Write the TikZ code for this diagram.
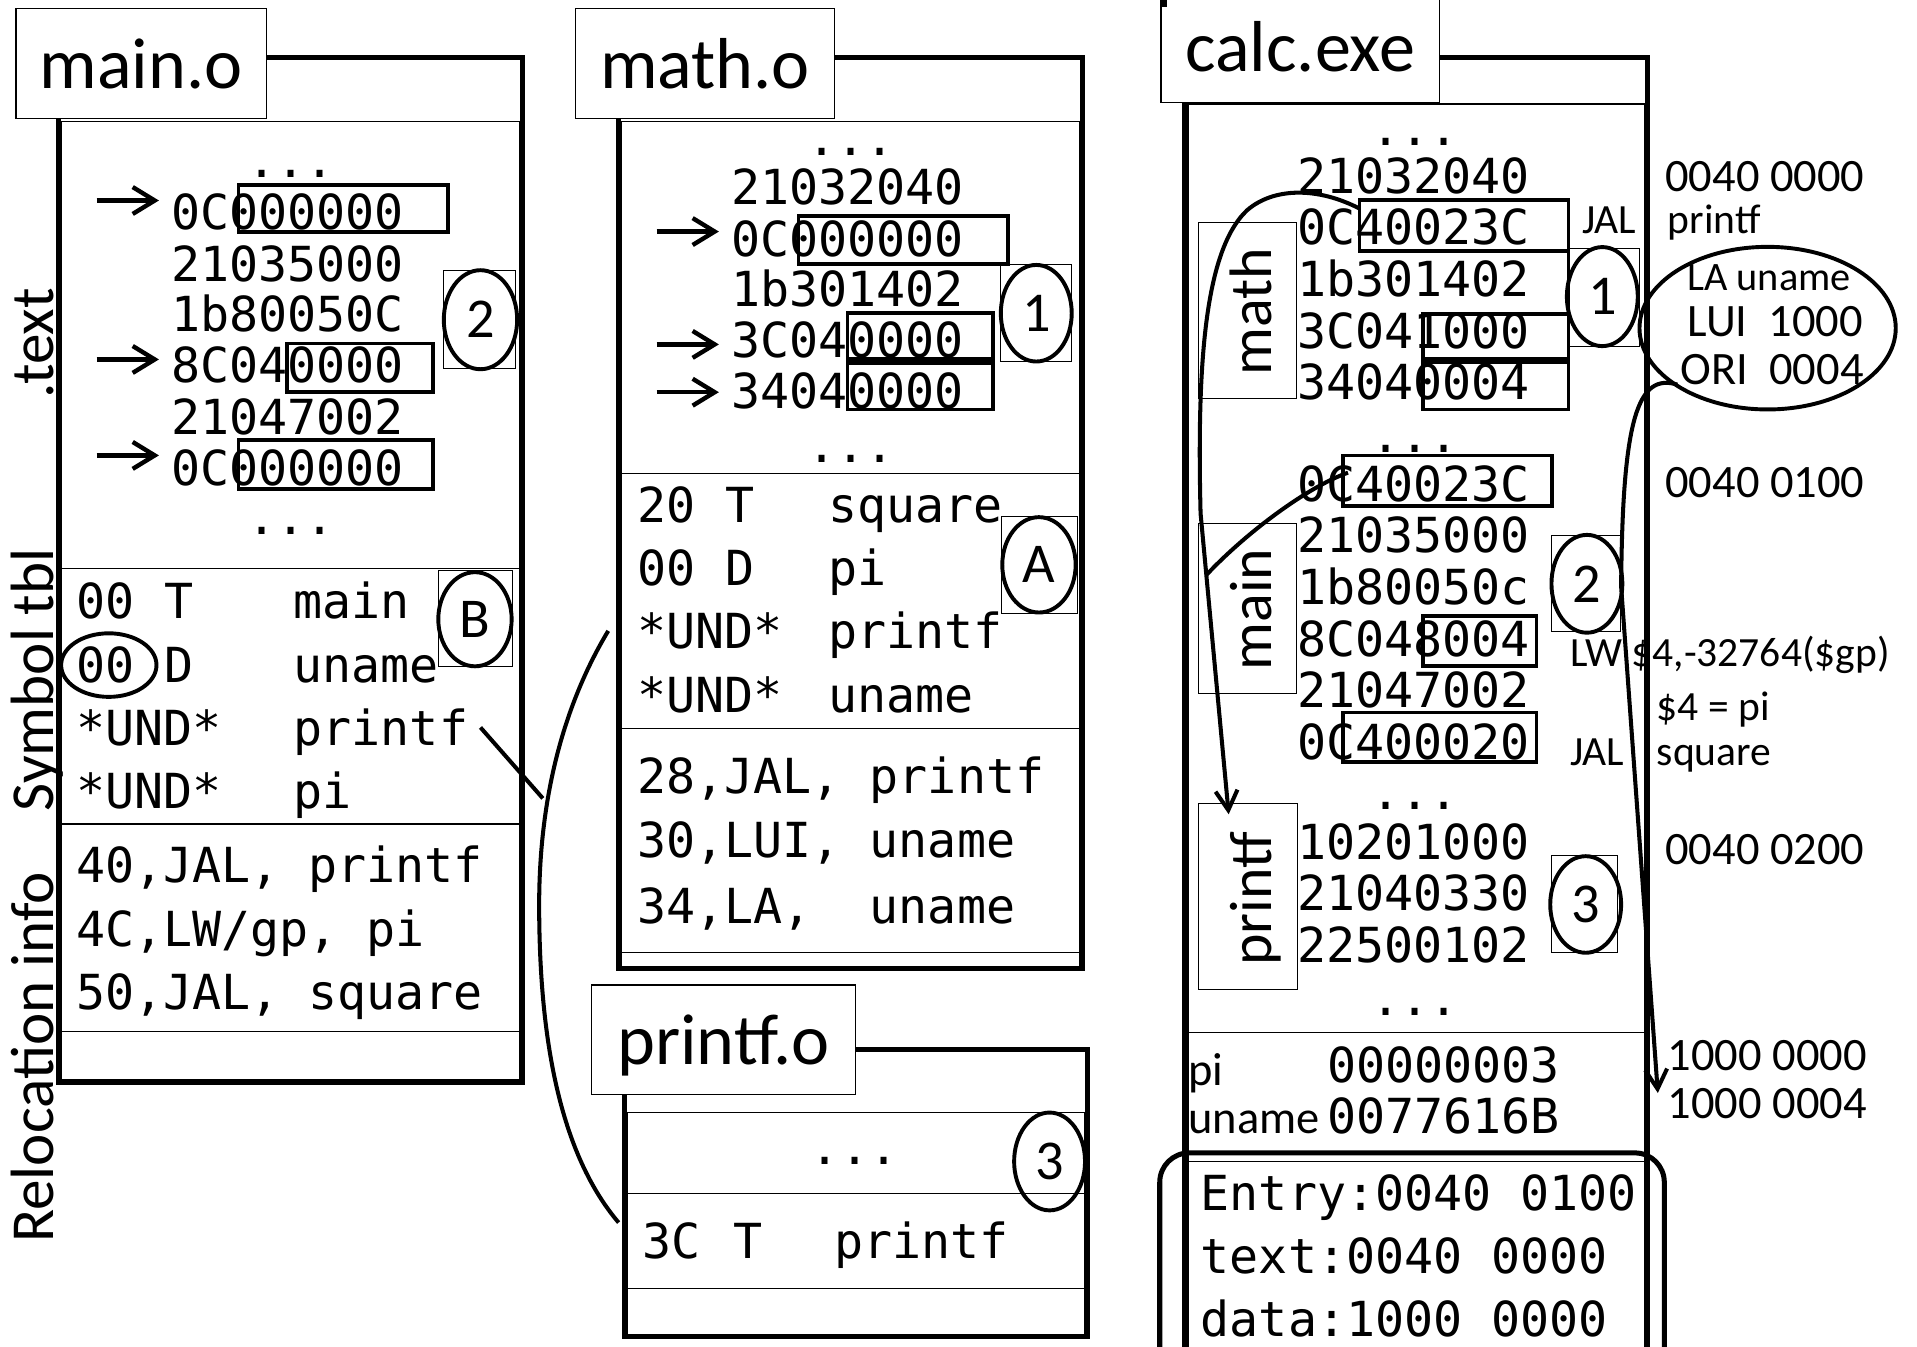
\documentclass[tikz,border=0pt]{standalone}
\usepackage{fontspec}
\setmainfont{Carlito}
\newfontfamily\monof{DejaVu Sans Mono}
\usetikzlibrary{shapes.geometric,arrows.meta}
\begin{document}
\begin{tikzpicture}[x=1pt,y=-1pt,
  thickbox/.style={line width=4.1pt},
  thinline/.style={line width=1pt},
  titlebox/.style={draw, fill=white, line width=1.2pt, inner sep=0pt, font=\fontsize{59}{59}\selectfont, text height=41pt, text depth=0pt},
  mono/.style={inner sep=0pt, anchor=base west, font=\monof\fontsize{39.5}{40}\selectfont\frenchspacing},
  ellip/.style={inner sep=0pt, anchor=base, font=\monof\fontsize{39.5}{40}\selectfont},
  sidelab/.style={inner sep=0pt, anchor=base, rotate=90, font=\fontsize{50}{50}\selectfont},
  calclab/.style={inner sep=0pt, anchor=base, rotate=90, font=\fontsize{49}{49}\selectfont},
  hlbox/.style={line width=3.1pt},
  numcirc/.style={ellipse, draw, line width=3.2pt, inner sep=0pt, font=\fontsize{46}{46}\selectfont},
  sqbox/.style={draw, line width=0.8pt, inner sep=0pt},
  annot/.style={inner sep=0pt, anchor=base west, font=\fontsize{34}{34}\selectfont},
  addrtxt/.style={inner sep=0pt, anchor=base west, font=\fontsize{38}{38}\selectfont},
  ptrarrow/.style={line width=3.6pt, -{Straight Barb[length=18pt,width=22pt]}},
  linkline/.style={line width=3.3pt},
  linkarrow/.style={line width=3.3pt, -{Straight Barb[length=16pt,width=18pt]}},
]
\useasboundingbox (0,0) rectangle (1568,1101);
\clip (0,0) rectangle (1568,1101);
\fill[white] (0,0) rectangle (1568,1101);

%% ================= main.o =================
\draw[thickbox] (47.6,47) rectangle (427,885);
\draw[thinline] (50,99.5) rectangle (425,885);
\foreach \yy in {465,674,844} \draw[thinline] (50,\yy) -- (425,\yy);
\node[titlebox, minimum width=205pt, minimum height=90pt] (tmain) at (115.5,52) {main.o};
\node[sidelab] (ltext) at (44,281) {.text};
\node[sidelab] (lsym) at (44,556) {Symbol tbl};
\node[sidelab] (lrel) at (44,865) {Relocation info};

\node[ellip] (md1) at (238,145) {...};
\node[mono] (mt1) at (140,188) {0C000000};
\node[mono] (mt2) at (140,230) {21035000};
\node[mono] (mt3) at (140,271) {1b80050C};
\node[mono] (mt4) at (140,313) {8C040000};
\node[mono] (mt5) at (140,355) {21047002};
\node[mono] (mt6) at (140,397.5) {0C000000};
\node[ellip] (md2) at (238,437.5) {...};

\draw[hlbox] (195,151) rectangle (366.6,190);
\draw[hlbox] (235,281) rectangle (354,320.7);
\draw[hlbox] (195,360) rectangle (354,400);

\coordinate (ma1s) at (79,164);   \coordinate (ma1e) at (130,164);
\coordinate (ma2s) at (79,294);   \coordinate (ma2e) at (130,294);
\coordinate (ma3s) at (79,372.5); \coordinate (ma3e) at (130,372.5);
\draw[ptrarrow] (ma1s) -- (ma1e);
\draw[ptrarrow] (ma2s) -- (ma2e);
\draw[ptrarrow] (ma3s) -- (ma3e);

\node[sqbox, minimum width=59pt, minimum height=79.4pt] (sq2m) at (392.5,261.3) {};
\node[numcirc, minimum width=60pt, minimum height=81pt] (c2m) at (393,261.5) {2};

\node[mono] (ms1a) at (62,506) {00};
\node[mono] (ms1b) at (134,506) {T};
\node[mono] (ms1c) at (240,506) {main};
\node[mono] (ms2a) at (62,558.6) {00};
\node[mono] (ms2b) at (134,558.6) {D};
\node[mono] (ms2c) at (240,558.6) {uname};
\node[mono] (ms3a) at (62,609.7) {*UND*};
\node[mono] (ms3c) at (240,609.7) {printf};
\node[mono] (ms4a) at (62,661.7) {*UND*};
\node[mono] (ms4c) at (240,661.7) {pi};

\node[ellipse, draw, line width=3.2pt, minimum width=78pt, minimum height=52pt, inner sep=0pt] (oval00) at (89,544) {};
\node[sqbox, minimum width=60.3pt, minimum height=78.9pt] (sqBm) at (388.8,506) {};
\node[numcirc, minimum width=60pt, minimum height=77pt] (cBm) at (388.5,506.5) {B};

\node[mono] (mr1) at (62,721.8) {40,JAL, printf};
\node[mono] (mr2) at (62,773.8) {4C,LW/gp, pi};
\node[mono] (mr3) at (62,825.6) {50,JAL, square};

%% ================= math.o =================
\draw[thickbox] (505.7,47) rectangle (885.4,792.4);
\draw[thinline] (508,99.5) rectangle (883,792.4);
\foreach \yy in {387,596,779} \draw[thinline] (508,\yy) -- (883,\yy);
\node[titlebox, minimum width=211.5pt, minimum height=90pt] (tmath) at (576.6,52) {math.o};

\node[ellip] (ad1) at (696,127) {...};
\node[mono] (at1) at (598,167.4) {21032040};
\node[mono] (at2) at (598,209.7) {0C000000};
\node[mono] (at3) at (598,250.4) {1b301402};
\node[mono] (at4) at (598,292.6) {3C040000};
\node[mono] (at5) at (598,334.3) {34040000};
\node[ellip] (ad2) at (696,378) {...};

\draw[hlbox] (653.2,176.8) rectangle (824.6,216);
\draw[hlbox] (693.2,256) rectangle (812,293.6);
\draw[hlbox] (693.2,296.7) rectangle (812,334.9);

\coordinate (aa1s) at (537,189.4); \coordinate (aa1e) at (588,189.4);
\coordinate (aa2s) at (537,281.7); \coordinate (aa2e) at (588,281.7);
\coordinate (aa3s) at (537,320.8); \coordinate (aa3e) at (588,320.8);
\draw[ptrarrow] (aa1s) -- (aa1e);
\draw[ptrarrow] (aa2s) -- (aa2e);
\draw[ptrarrow] (aa3s) -- (aa3e);

\node[sqbox, minimum width=57.9pt, minimum height=79.2pt] (sq1a) at (847.6,256.2) {};
\node[numcirc, minimum width=58pt, minimum height=79pt] (c1a) at (847.6,256.2) {1};

\node[mono] (as1a) at (521,427.2) {20};
\node[mono] (as1b) at (593,427.2) {T};
\node[mono] (as1c) at (677.5,427.2) {square};
\node[mono] (as2a) at (521,478.9) {00};
\node[mono] (as2b) at (593,478.9) {D};
\node[mono] (as2c) at (677.5,478.9) {pi};
\node[mono] (as3a) at (521,530.8) {*UND*};
\node[mono] (as3c) at (677.5,530.8) {printf};
\node[mono] (as4a) at (521,582.7) {*UND*};
\node[mono] (as4c) at (677.5,582.7) {uname};

\node[sqbox, minimum width=62.3pt, minimum height=79.3pt] (sqAa) at (849.9,462.2) {};
\node[numcirc, minimum width=60pt, minimum height=78pt] (cAa) at (849.8,462) {A};

\node[mono] (ar1) at (521,649.2) {28,JAL, printf};
\node[mono] (ar2) at (521,701) {30,LUI, uname};
\node[mono] (ar3) at (521,755) {34,LA,\ \ uname};

%% ================= printf.o =================
\draw[thickbox] (510.6,858.8) rectangle (889.8,1093.5);
\draw[thinline] (513,910) rectangle (887.5,1093.5);
\foreach \yy in {976.4,1054} \draw[thinline] (513,\yy) -- (887.5,\yy);
\node[titlebox, minimum width=216.3pt, minimum height=89.7pt] (tprintf) at (591.8,850.5) {printf.o};
\node[ellip] (pd1) at (699,952.5) {...};
\node[numcirc, minimum width=58pt, minimum height=80pt] (c3p) at (858.5,950) {3};
\node[mono] (ps1a) at (525,1029) {3C};
\node[mono] (ps1b) at (600,1029) {T};
\node[mono] (ps1c) at (682,1029) {printf};

%% links between object files
\coordinate (lkA) at (497.5,516);
\coordinate (lkB) at (506,1000);
\coordinate (lkM) at (393,595);
\coordinate (lkJ) at (444,653);
\draw[linkline] (lkA) .. controls (462,575) and (441,650) .. (441,740) .. controls (441,840) and (455,940) .. (lkB);
\draw[linkline] (lkM) -- (lkJ);

%% ================= calc.exe =================
\draw[thickbox] (969,47) rectangle (1347.9,1130);
\draw[thinline] (971.7,85) rectangle (1345,1130);
\foreach \yy in {844.4,950} \draw[thinline] (971.7,\yy) -- (1345,\yy);
\draw[line width=4.1pt, rounded corners=24pt] (948.6,943) rectangle (1361.3,1140);
\node[titlebox, minimum width=228pt, minimum height=92pt] (tcalc) at (1063.5,38) {calc.exe};
\fill (949.5,0) rectangle (954.5,5.6);

\node[sqbox, minimum width=79.7pt, minimum height=144.5pt] (sqmath) at (1020.2,253.9) {};
\node[sqbox, minimum width=79.7pt, minimum height=139.4pt] (sqmain) at (1020.2,497.7) {};
\node[sqbox, minimum width=80.4pt, minimum height=151.5pt] (sqprintf) at (1020.8,733.3) {};
\node[calclab] (lmath) at (1040,255) {math};
\node[calclab] (lmain) at (1040,498.5) {main};
\node[calclab] (lprintf) at (1040,735.4) {printf};

\node[ellip] (cd1) at (1157.4,119) {...};
\node[mono] (ct1) at (1061,158) {21032040};
\node[mono] (ct2) at (1061,200.3) {0C40023C};
\node[mono] (ct3) at (1061,242.6) {1b301402};
\node[mono] (ct4) at (1061,284.8) {3C041000};
\node[mono] (ct5) at (1061,327) {34040004};
\node[ellip] (cd2) at (1157.4,370.4) {...};
\node[mono] (ct6) at (1061,410) {0C40023C};
\node[mono] (ct7) at (1061,452.3) {21035000};
\node[mono] (ct8) at (1061,494.5) {1b80050c};
\node[mono] (ct9) at (1061,536.7) {8C048004};
\node[mono] (ct10) at (1061,578.9) {21047002};
\node[mono] (ct11) at (1061,621.1) {0C400020};
\node[ellip] (cd3) at (1157.4,662.2) {...};
\node[mono] (ct12) at (1061,703.2) {10201000};
\node[mono] (ct13) at (1061,744.7) {21040330};
\node[mono] (ct14) at (1061,787) {22500102};
\node[ellip] (cd4) at (1157.4,830.4) {...};

\draw[hlbox] (1112,163.4) rectangle (1283,205);
\draw[hlbox] (1283,205) -- (1283,256.7);
\draw[hlbox] (1164.2,256.7) rectangle (1283,293.2);
\draw[hlbox] (1164.2,296) rectangle (1283,334.9);
\draw[hlbox] (1098.7,372.5) rectangle (1269.7,413.8);
\draw[hlbox] (1164.2,503.9) rectangle (1256.7,544.5);
\draw[hlbox] (1098.7,582.7) rectangle (1256.7,623.4);

\node[sqbox, minimum width=57pt, minimum height=79.8pt] (sq1c) at (1312.5,243.4) {};
\node[numcirc, minimum width=58pt, minimum height=81pt] (c1c) at (1310.6,242.6) {1};
\node[sqbox, minimum width=56.6pt, minimum height=78.1pt] (sq2c) at (1297.3,477.3) {};
\node[numcirc, minimum width=58pt, minimum height=80pt] (c2c) at (1298,477.5) {2};
\node[sqbox, minimum width=54pt, minimum height=79pt] (sq3c) at (1296,739.5) {};
\node[numcirc, minimum width=58pt, minimum height=79pt] (c3c) at (1297,739.8) {3};

\node[inner sep=0pt, anchor=base west, font=\fontsize{38}{38}\selectfont] (dpi) at (972,888) {pi};
\node[inner sep=0pt, anchor=base west, font=\fontsize{38}{38}\selectfont] (duname) at (972,927.4) {uname};
\node[mono] (dv1) at (1085.5,885.8) {00000003};
\node[mono] (dv2) at (1085.5,927.4) {0077616B};

\node[mono] (h1) at (982,989.7) {Entry:0040 0100};
\node[mono] (h2) at (982,1041.6) {text:0040 0000};
\node[mono] (h3) at (982,1093.5) {data:1000 0000};

%% annotations on the right
\node[addrtxt] (ad0000) at (1362,156.5) {0040 0000};
\node[addrtxt] (ad0100) at (1362,406.9) {0040 0100};
\node[addrtxt] (ad0200) at (1362,707.3) {0040 0200};
\node[addrtxt] (ad1000) at (1364,875.4) {1000 0000};
\node[addrtxt] (ad1004) at (1364,915) {1000 0004};
\node[annot] (njal1) at (1294,191) {JAL};
\node[annot] (nprintf) at (1364,191) {printf};
\node[annot] (nlw) at (1284,545.4) {LW \$4,-32764(\$gp)};
\node[annot] (npi) at (1355,589) {\$4 = pi};
\node[annot] (njal2) at (1284,626.4) {JAL};
\node[annot] (nsquare) at (1355,626.4) {square};

\node[ellipse, draw, line width=3.2pt, inner sep=0pt, minimum width=209.6pt, minimum height=133pt] (laell) at (1445.8,268.4) {};
\node[inner sep=0pt, anchor=base, font=\fontsize{33}{33}\selectfont] (launame) at (1447,237.9) {LA uname};
\node[inner sep=0pt, anchor=base, font=\fontsize{38}{38}\selectfont] (lalui) at (1452,275.4) {LUI\ \ 1000};
\node[inner sep=0pt, anchor=base, font=\fontsize{38}{38}\selectfont] (laori) at (1449.5,314.6) {ORI\ \ 0004};

%% curves in calc.exe
\coordinate (k1s) at (1112,170.6);
\coordinate (k1e) at (1005,666);
\coordinate (k2s) at (1102.6,386.6);
\coordinate (k2e) at (987,470);
\coordinate (k3s) at (1372,314.6);
\coordinate (k3e) at (1356,894);
\draw[linkarrow] (k1s) .. controls (1078,153) and (1042,153) .. (1020,172) .. controls (985,205) and (979,300) .. (982,420) -- (k1e);
\draw[linkline] (k2s) .. controls (1070,398) and (1020,435) .. (k2e);
\draw[linkarrow] (k3s) .. controls (1340,305) and (1327,340) .. (1326,480) -- (k3e);
\end{tikzpicture}
\end{document}
